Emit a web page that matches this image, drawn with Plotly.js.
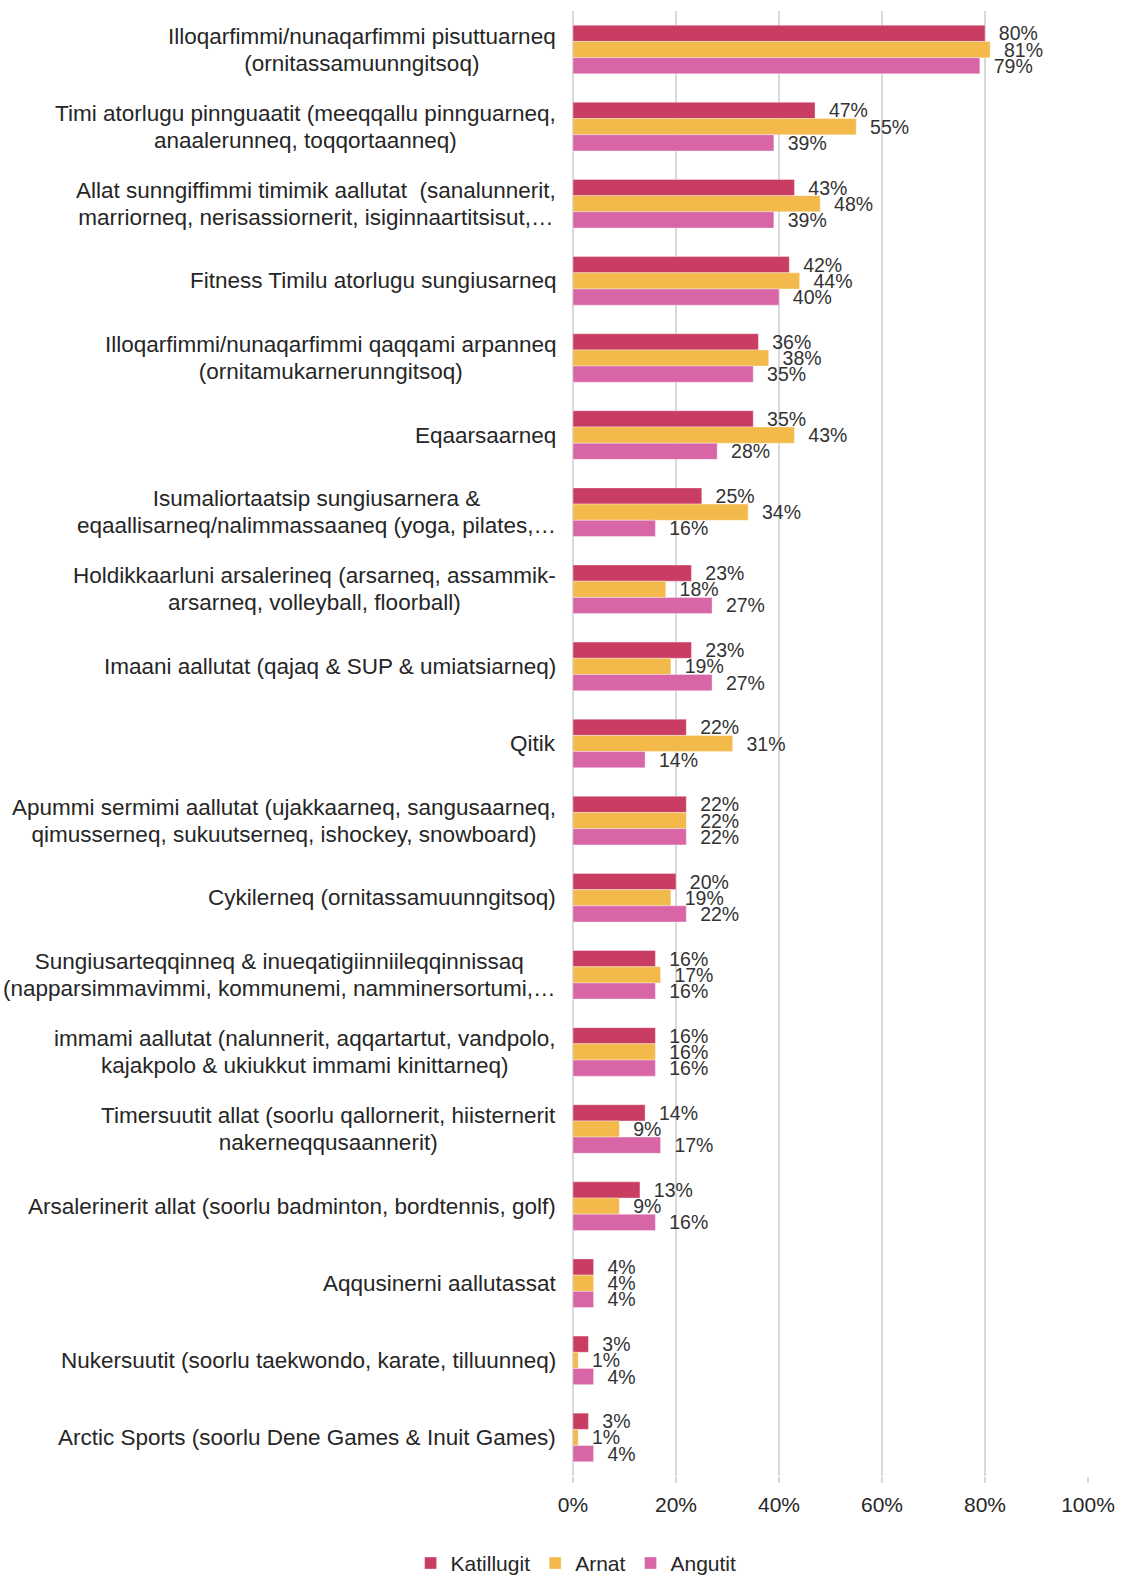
<!DOCTYPE html>
<html>
<head>
<meta charset="utf-8">
<script src="https://cdn.plot.ly/plotly-3.0.1.min.js"></script>
<style>
html,body{margin:0;padding:0;background:#fff;}
#chart{width:1124px;height:1576px;}
</style>
</head>
<body>
<div id="chart"></div>
<script>
const categories = [
  "Illoqarfimmi/nunaqarfimmi pisuttuarneq<br>(ornitassamuunngitsoq)",
  "Timi atorlugu pinnguaatit (meeqqallu pinnguarneq,<br>anaalerunneq, toqqortaanneq)",
  "Allat sunngiffimmi timimik aallutat  (sanalunnerit,<br>marriorneq, nerisassiornerit, isiginnaartitsisut,…",
  "Fitness Timilu atorlugu sungiusarneq",
  "Illoqarfimmi/nunaqarfimmi qaqqami arpanneq<br>(ornitamukarnerunngitsoq)",
  "Eqaarsaarneq",
  "Isumaliortaatsip sungiusarnera &<br>eqaallisarneq/nalimmassaaneq (yoga, pilates,…",
  "Holdikkaarluni arsalerineq (arsarneq, assammik-<br>arsarneq, volleyball, floorball)",
  "Imaani aallutat (qajaq & SUP & umiatsiarneq)",
  "Qitik",
  "Apummi sermimi aallutat (ujakkaarneq, sangusaarneq,<br>qimusserneq, sukuutserneq, ishockey, snowboard)",
  "Cykilerneq (ornitassamuunngitsoq)",
  "Sungiusarteqqinneq & inueqatigiinniileqqinnissaq<br>(napparsimmavimmi, kommunemi, namminersortumi,…",
  "immami aallutat (nalunnerit, aqqartartut, vandpolo,<br>kajakpolo & ukiukkut immami kinittarneq)",
  "Timersuutit allat (soorlu qallornerit, hiisternerit<br>nakerneqqusaannerit)",
  "Arsalerinerit allat (soorlu badminton, bordtennis, golf)",
  "Aqqusinerni aallutassat",
  "Nukersuutit (soorlu taekwondo, karate, tilluunneq)",
  "Arctic Sports (soorlu Dene Games & Inuit Games)"
];
const katillugit = [80, 47, 43, 42, 36, 35, 25, 23, 23, 22, 22, 20, 16, 16, 14, 13, 4, 3, 3];
const arnat      = [81, 55, 48, 44, 38, 43, 34, 18, 19, 31, 22, 19, 17, 16, 9, 9, 4, 1, 1];
const angutit    = [79, 39, 39, 40, 35, 28, 16, 27, 27, 14, 22, 22, 16, 16, 17, 16, 4, 4, 4];
const seriesNames = ["Katillugit", "Arnat", "Angutit"];
const seriesColors = ["#CA3D63", "#F3B94A", "#D866A7"];
const xTickVals = [0, 20, 40, 60, 80, 100];
const xTickText = ["0%", "20%", "40%", "60%", "80%", "100%"];

const FONT = "Liberation Sans, Arial, sans-serif";
const seriesValues = [katillugit, arnat, angutit];
const traces = seriesValues.map((vals, i) => ({
  type: "bar",
  orientation: "h",
  name: seriesNames[i],
  y: categories,
  x: vals,
  text: vals.map(v => "\u00a0\u00a0" + v + "%"),
  textposition: "outside",
  textfont: {family: FONT, size: 19.5, color: "#333333"},
  constraintext: "none",
  cliponaxis: false,
  hoverinfo: "x+name",
  marker: {color: seriesColors[i], line: {color: "rgba(255,255,255,0.35)", width: 1}}
}));

const annotations = categories.map(c => ({
  xref: "paper", yref: "y",
  x: 0, y: c,
  text: c.split("<br>").map(l => '<span style="font-size:22.5px">' + l + '</span>').join("<br>"),
  xanchor: "right", yanchor: "middle",
  xshift: -15,
  align: "center",
  showarrow: false,
  font: {family: FONT, size: 20.5, color: "#262626"}
}));

const layout = {
  width: 1124, height: 1576,
  paper_bgcolor: "#ffffff", plot_bgcolor: "#ffffff",
  margin: {l: 573, r: 36, t: 11, b: 100},
  barmode: "group",
  bargap: 0.37,
  bargroupgap: 0,
  font: {family: FONT, size: 20, color: "#262626"},
  xaxis: {
    range: [0, 100],
    tickvals: xTickVals,
    ticktext: xTickText,
    showgrid: true,
    gridcolor: "#d9d9d9",
    gridwidth: 2,
    zeroline: true,
    zerolinecolor: "#d9d9d9",
    zerolinewidth: 2,
    ticks: "outside",
    ticklen: 6,
    tickwidth: 2,
    tickcolor: "#d9d9d9",
    tickfont: {family: FONT, size: 21, color: "#262626"},
    ticklabelstandoff: 4,
    fixedrange: true
  },
  yaxis: {
    type: "category",
    autorange: "reversed",
    showticklabels: false,
    showgrid: false,
    zeroline: false,
    ticks: "",
    fixedrange: true
  },
  legend: {
    orientation: "h",
    xref: "paper", yref: "container",
    x: 0.006, xanchor: "center",
    y: 0.008, yanchor: "middle",
    font: {family: FONT, size: 21, color: "#262626"},
    itemwidth: 30,
    tracegroupgap: 0,
    traceorder: "normal"
  },
  annotations: annotations,
  showlegend: true
};

Plotly.newPlot("chart", traces, layout, {displayModeBar: false, staticPlot: true});
</script>
</body>
</html>
